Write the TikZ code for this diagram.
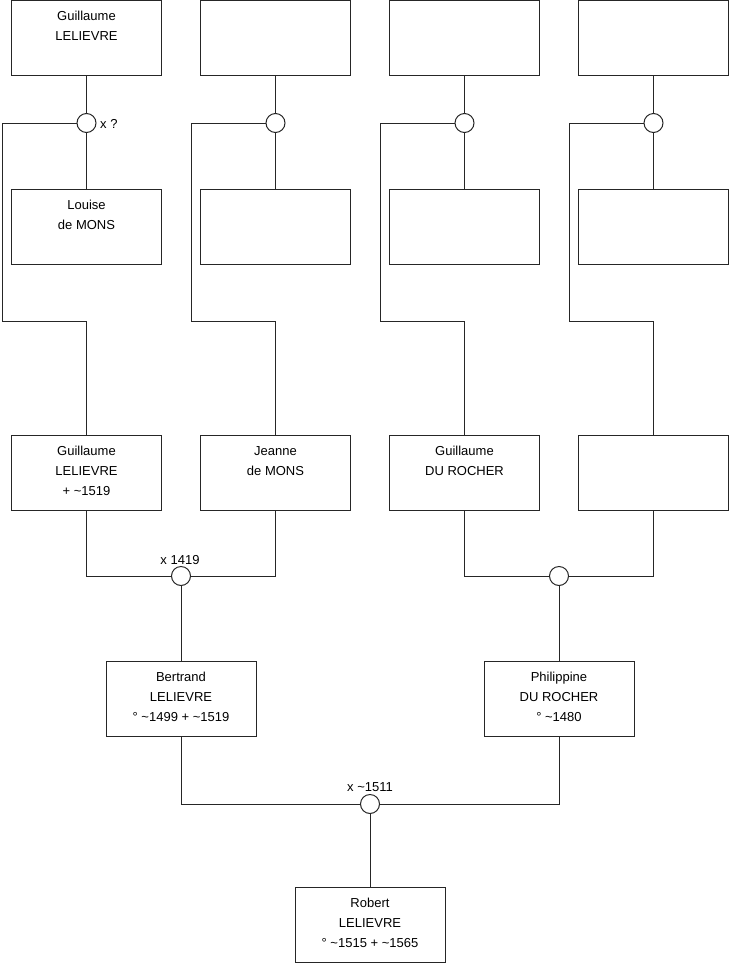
\documentclass[tikz,border=0pt]{standalone}
\usepackage{fontspec}
\setmainfont{Liberation Sans}
\begin{document}
\begin{tikzpicture}[x=1pt,y=-1pt,
  person/.style={draw=black!85, line width=1pt, fill=white, minimum width=150pt, minimum height=75pt, inner sep=0pt, align=center, font=\fontsize{13}{20}\selectfont, execute at end node={\rule[-4pt]{0pt}{4pt}}},
  union/.style={circle, draw=black!85, line width=1pt, fill=white, minimum size=19pt, inner sep=0pt},
  conn/.style={draw=black!85, line width=1pt},
  lab/.style={font=\fontsize{13}{16}\selectfont, inner sep=0pt}]
\useasboundingbox (0,0) rectangle (740,975);
% top row
\node[person] (t1) at (86.5,38) {Guillaume\\LELIEVRE\\\mbox{}};
\node[person] (t2) at (275.5,38) {};
\node[person] (t3) at (464.5,38) {};
\node[person] (t4) at (653.5,38) {};
% unions
\node[union] (m1) at (86.5,123) {};
\node[union] (m2) at (275.5,123) {};
\node[union] (m3) at (464.5,123) {};
\node[union] (m4) at (653.5,123) {};
% second row
\node[person] (s1) at (86.5,227) {Louise\\de MONS\\\mbox{}};
\node[person] (s2) at (275.5,227) {};
\node[person] (s3) at (464.5,227) {};
\node[person] (s4) at (653.5,227) {};
% third row
\node[person] (p1) at (86.5,473) {Guillaume\\LELIEVRE\\+ \textasciitilde1519};
\node[person] (p2) at (275.5,473) {Jeanne\\de MONS\\\mbox{}};
\node[person] (p3) at (464.5,473) {Guillaume\\DU ROCHER\\\mbox{}};
\node[person] (p4) at (653.5,473) {};
% unions row 3
\node[union] (mA) at (181,576) {};
\node[union] (mB) at (559,576) {};
% fourth row
\node[person] (g1) at (181,699) {Bertrand\\LELIEVRE\\° \textasciitilde1499 + \textasciitilde1519};
\node[person] (g2) at (559,699) {Philippine\\DU ROCHER\\° \textasciitilde1480};
\node[union] (mC) at (370,804) {};
\node[person] (r) at (370,925) {Robert\\LELIEVRE\\° \textasciitilde1515 + \textasciitilde1565};
% corner coordinates
\coordinate (k1) at (2,321);
\coordinate (k2) at (191,321);
\coordinate (k3) at (380,321);
\coordinate (k4) at (569,321);
% connectors
\foreach \i in {1,2,3,4}{
  \draw[conn] (t\i) -- (m\i);
  \draw[conn] (m\i) -- (s\i);
  \draw[conn] (m\i) -| (k\i) -| (p\i);
}
\draw[conn] (p1) |- (mA);
\draw[conn] (mA) -| (p2);
\draw[conn] (p3) |- (mB);
\draw[conn] (mB) -| (p4);
\draw[conn] (mA) -- (g1);
\draw[conn] (mB) -- (g2);
\draw[conn] (g1) |- (mC);
\draw[conn] (mC) -| (g2);
\draw[conn] (mC) -- (r);
% labels
\node[lab, anchor=base west] (l1) at (100,128) {x ?};
\node[lab, anchor=base] (lA) at (180,564) {x 1419};
\node[lab, anchor=base] (lC) at (370,791) {x \textasciitilde1511};
\end{tikzpicture}
\end{document}
